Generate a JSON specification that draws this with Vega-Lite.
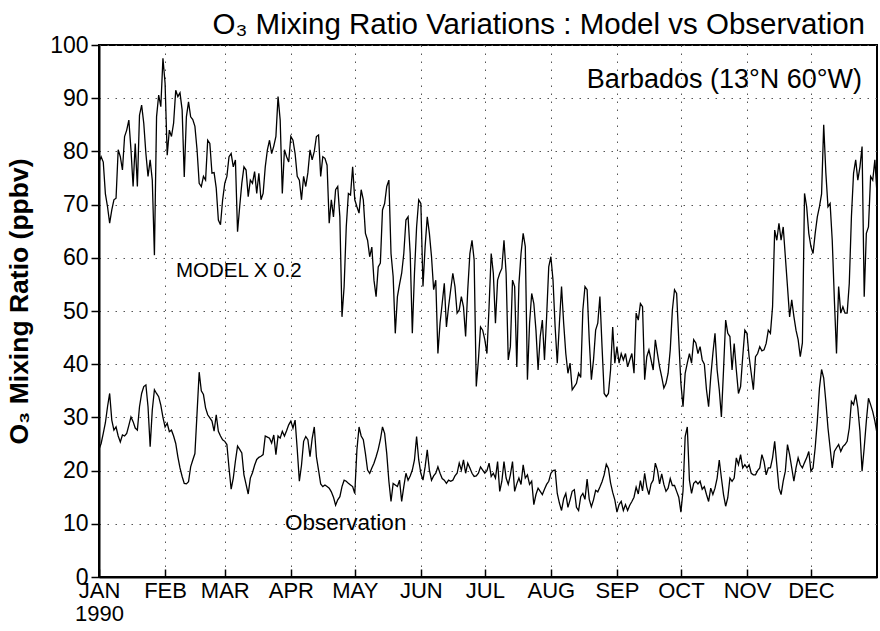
{
"$schema": "https://vega.github.io/schema/vega-lite/v6.json",
"width": 778, "height": 532,
"autosize": {"type": "none"},
"padding": {"left": 99, "top": 45, "right": 3, "bottom": 54},
"background": "white",
"config": {"font": "Liberation Sans", "view": {"stroke": "black", "strokeWidth": 2}},
"title": {"text": "O₃ Mixing Ratio Variations : Model vs Observation", "anchor": "end", "frame": "group", "fontSize": 29.5, "fontWeight": "normal", "font": "Liberation Sans", "color": "black", "dx": -12, "dy": 33, "offset": 4, "baseline": "alphabetic"},
"datasets": {
"model": [
{"day":0,"o3":78},{"day":1,"o3":79},{"day":2,"o3":78},{"day":3,"o3":72},{"day":4,"o3":69.6},{"day":5,"o3":66.5},{"day":6,"o3":69},{"day":7,"o3":70.9},{"day":8,"o3":71.2},{"day":9,"o3":80.3},
{"day":10,"o3":79},{"day":11,"o3":76.5},{"day":12,"o3":82.8},{"day":13,"o3":84},{"day":14,"o3":85.9},{"day":15,"o3":80.3},{"day":16,"o3":73.4},{"day":17,"o3":81.5},{"day":18,"o3":73.4},{"day":19,"o3":86.8},
{"day":20,"o3":88.7},{"day":21,"o3":85.3},{"day":22,"o3":79.6},{"day":23,"o3":75.3},{"day":24,"o3":78.4},{"day":25,"o3":74.6},{"day":26,"o3":60.5},{"day":27,"o3":86.5},{"day":28,"o3":90.6},{"day":29,"o3":88.4},
{"day":30,"o3":97.5},{"day":31,"o3":92.8},{"day":32,"o3":79.3},{"day":33,"o3":84},{"day":34,"o3":82.8},{"day":35,"o3":85.3},{"day":36,"o3":91.5},{"day":37,"o3":90.3},{"day":38,"o3":91},{"day":39,"o3":87.8},
{"day":40,"o3":75.2},{"day":41,"o3":86.5},{"day":42,"o3":89.3},{"day":43,"o3":86.5},{"day":44,"o3":86},{"day":45,"o3":84.7},{"day":46,"o3":80.3},{"day":47,"o3":74},{"day":48,"o3":73.4},{"day":49,"o3":75.3},
{"day":50,"o3":74.6},{"day":51,"o3":82.1},{"day":52,"o3":81.5},{"day":53,"o3":75.9},{"day":54,"o3":76},{"day":55,"o3":73.1},{"day":56,"o3":67.1},{"day":57,"o3":66.2},{"day":58,"o3":70.9},{"day":59,"o3":74},
{"day":60,"o3":75.3},{"day":61,"o3":79},{"day":62,"o3":79.6},{"day":63,"o3":77.1},{"day":64,"o3":78.4},{"day":65,"o3":64.9},{"day":66,"o3":69.6},{"day":67,"o3":74},{"day":68,"o3":77.1},{"day":69,"o3":76.5},
{"day":70,"o3":71.5},{"day":71,"o3":74.6},{"day":72,"o3":74},{"day":73,"o3":76.2},{"day":74,"o3":72.1},{"day":75,"o3":75.9},{"day":76,"o3":70.9},{"day":77,"o3":72.1},{"day":78,"o3":77.1},{"day":79,"o3":80.3},
{"day":80,"o3":82.1},{"day":81,"o3":79.6},{"day":82,"o3":81},{"day":83,"o3":82.8},{"day":84,"o3":90.3},{"day":85,"o3":85.9},{"day":86,"o3":72.1},{"day":87,"o3":80.3},{"day":88,"o3":79},{"day":89,"o3":78},
{"day":90,"o3":82.8},{"day":91,"o3":82.1},{"day":92,"o3":79.6},{"day":93,"o3":75.3},{"day":94,"o3":74.6},{"day":95,"o3":70.9},{"day":96,"o3":75.3},{"day":97,"o3":73.4},{"day":98,"o3":76},{"day":99,"o3":80.3},
{"day":100,"o3":78.4},{"day":101,"o3":80},{"day":102,"o3":82.8},{"day":103,"o3":83.1},{"day":104,"o3":75.3},{"day":105,"o3":79},{"day":106,"o3":78.7},{"day":107,"o3":77.4},{"day":108,"o3":66.5},{"day":109,"o3":70.9},
{"day":110,"o3":67.7},{"day":111,"o3":72.8},{"day":112,"o3":73.4},{"day":113,"o3":67.7},{"day":114,"o3":48.9},{"day":115,"o3":54.6},{"day":116,"o3":65.8},{"day":117,"o3":72.1},{"day":118,"o3":71.8},{"day":119,"o3":77.1},
{"day":120,"o3":70.9},{"day":121,"o3":69.6},{"day":122,"o3":68.4},{"day":123,"o3":72.8},{"day":124,"o3":70.9},{"day":125,"o3":64.6},{"day":126,"o3":63.3},{"day":127,"o3":60.2},{"day":128,"o3":62},{"day":129,"o3":55.8},
{"day":130,"o3":52.7},{"day":131,"o3":58.3},{"day":132,"o3":59},{"day":133,"o3":69},{"day":134,"o3":70.2},{"day":135,"o3":73.4},{"day":136,"o3":74.6},{"day":137,"o3":60.8},{"day":138,"o3":56.5},{"day":139,"o3":45.8},
{"day":140,"o3":52.7},{"day":141,"o3":55},{"day":142,"o3":57.1},{"day":143,"o3":60.8},{"day":144,"o3":67.1},{"day":145,"o3":67.7},{"day":146,"o3":60.8},{"day":147,"o3":45.8},{"day":148,"o3":57.1},{"day":149,"o3":65.8},
{"day":150,"o3":70.9},{"day":151,"o3":70.2},{"day":152,"o3":54.6},{"day":153,"o3":62.1},{"day":154,"o3":67.7},{"day":155,"o3":64.6},{"day":156,"o3":60.2},{"day":157,"o3":54},{"day":158,"o3":55.8},{"day":159,"o3":42},
{"day":160,"o3":47.7},{"day":161,"o3":51.4},{"day":162,"o3":55.2},{"day":163,"o3":47},{"day":164,"o3":50.8},{"day":165,"o3":54},{"day":166,"o3":57.1},{"day":167,"o3":54.6},{"day":168,"o3":49.6},{"day":169,"o3":50.2},
{"day":170,"o3":52.7},{"day":171,"o3":50.8},{"day":172,"o3":45.2},{"day":173,"o3":54},{"day":174,"o3":60.8},{"day":175,"o3":63.3},{"day":176,"o3":59.6},{"day":177,"o3":35.8},{"day":178,"o3":40.8},{"day":179,"o3":47},
{"day":180,"o3":46.4},{"day":181,"o3":44.6},{"day":182,"o3":42},{"day":183,"o3":50.8},{"day":184,"o3":60.8},{"day":185,"o3":57.1},{"day":186,"o3":47.7},{"day":187,"o3":55.8},{"day":188,"o3":57.1},{"day":189,"o3":58},
{"day":190,"o3":63.3},{"day":191,"o3":57.1},{"day":192,"o3":40.8},{"day":193,"o3":43.3},{"day":194,"o3":55.8},{"day":195,"o3":54.6},{"day":196,"o3":39.5},{"day":197,"o3":55},{"day":198,"o3":60.8},{"day":199,"o3":64.6},
{"day":200,"o3":62.1},{"day":201,"o3":37.1},{"day":202,"o3":47.7},{"day":203,"o3":53.3},{"day":204,"o3":51.4},{"day":205,"o3":46.4},{"day":206,"o3":38.9},{"day":207,"o3":45.2},{"day":208,"o3":48.3},{"day":209,"o3":40.8},
{"day":210,"o3":48.9},{"day":211,"o3":58.3},{"day":212,"o3":60.2},{"day":213,"o3":55.8},{"day":214,"o3":47},{"day":215,"o3":40.2},{"day":216,"o3":47.7},{"day":217,"o3":54.6},{"day":218,"o3":47.7},{"day":219,"o3":42},
{"day":220,"o3":38.3},{"day":221,"o3":40.2},{"day":222,"o3":35.2},{"day":223,"o3":35.8},{"day":224,"o3":36.4},{"day":225,"o3":38.3},{"day":226,"o3":37.5},{"day":227,"o3":50.2},{"day":228,"o3":54.6},{"day":229,"o3":54},
{"day":230,"o3":44.6},{"day":231,"o3":37.1},{"day":232,"o3":40.8},{"day":233,"o3":46.4},{"day":234,"o3":47.7},{"day":235,"o3":52.7},{"day":236,"o3":43.3},{"day":237,"o3":34.5},{"day":238,"o3":33.9},{"day":239,"o3":34.5},
{"day":240,"o3":38.9},{"day":241,"o3":47},{"day":242,"o3":40.2},{"day":243,"o3":43.3},{"day":244,"o3":40.2},{"day":245,"o3":42},{"day":246,"o3":40.8},{"day":247,"o3":42},{"day":248,"o3":39.5},{"day":249,"o3":40.8},
{"day":250,"o3":42},{"day":251,"o3":38.3},{"day":252,"o3":49.6},{"day":253,"o3":48.3},{"day":254,"o3":51.4},{"day":255,"o3":50.8},{"day":256,"o3":37.1},{"day":257,"o3":41.4},{"day":258,"o3":42.7},{"day":259,"o3":40.8},
{"day":260,"o3":38.9},{"day":261,"o3":44.6},{"day":262,"o3":42},{"day":263,"o3":39.5},{"day":264,"o3":37.6},{"day":265,"o3":35.5},{"day":266,"o3":36.4},{"day":267,"o3":38.3},{"day":268,"o3":42.7},{"day":269,"o3":50.2},
{"day":270,"o3":54},{"day":271,"o3":53.3},{"day":272,"o3":44.6},{"day":273,"o3":36.4},{"day":274,"o3":32},{"day":275,"o3":38.3},{"day":276,"o3":40.2},{"day":277,"o3":42},{"day":278,"o3":40.2},{"day":279,"o3":44.6},
{"day":280,"o3":44},{"day":281,"o3":42},{"day":282,"o3":43.3},{"day":283,"o3":40.8},{"day":284,"o3":40},{"day":285,"o3":35.2},{"day":286,"o3":32},{"day":287,"o3":37.6},{"day":288,"o3":42},{"day":289,"o3":45.8},
{"day":290,"o3":38.9},{"day":291,"o3":35.2},{"day":292,"o3":30.1},{"day":293,"o3":38.9},{"day":294,"o3":48.3},{"day":295,"o3":45.8},{"day":296,"o3":45.2},{"day":297,"o3":38.9},{"day":298,"o3":43.9},{"day":299,"o3":38.9},
{"day":300,"o3":34.5},{"day":301,"o3":35.8},{"day":302,"o3":41.4},{"day":303,"o3":46.4},{"day":304,"o3":45.8},{"day":305,"o3":41.4},{"day":306,"o3":38.3},{"day":307,"o3":35.2},{"day":308,"o3":41.4},{"day":309,"o3":42},
{"day":310,"o3":43.3},{"day":311,"o3":42.5},{"day":312,"o3":42.7},{"day":313,"o3":43.9},{"day":314,"o3":46.4},{"day":315,"o3":45.8},{"day":316,"o3":50.8},{"day":317,"o3":65.2},{"day":318,"o3":63.3},{"day":319,"o3":66.5},
{"day":320,"o3":63.3},{"day":321,"o3":65.8},{"day":322,"o3":60.2},{"day":323,"o3":54.6},{"day":324,"o3":48.9},{"day":325,"o3":52.1},{"day":326,"o3":49},{"day":327,"o3":46.4},{"day":328,"o3":44.6},{"day":329,"o3":41.4},
{"day":330,"o3":44},{"day":331,"o3":72.1},{"day":332,"o3":69.6},{"day":333,"o3":64.6},{"day":334,"o3":62.1},{"day":335,"o3":60.8},{"day":336,"o3":64.6},{"day":337,"o3":67.7},{"day":338,"o3":69.6},{"day":339,"o3":72},
{"day":340,"o3":85},{"day":341,"o3":76},{"day":342,"o3":69.6},{"day":343,"o3":70.2},{"day":344,"o3":63.3},{"day":345,"o3":52.1},{"day":346,"o3":42},{"day":347,"o3":54.6},{"day":348,"o3":49.6},{"day":349,"o3":50.8},
{"day":350,"o3":49.6},{"day":351,"o3":49.6},{"day":352,"o3":55.2},{"day":353,"o3":67.7},{"day":354,"o3":75.9},{"day":355,"o3":78.4},{"day":356,"o3":74.6},{"day":357,"o3":77.1},{"day":358,"o3":80.9},{"day":359,"o3":52.7},
{"day":360,"o3":64.6},{"day":361,"o3":65.8},{"day":362,"o3":75.3},{"day":363,"o3":74.6},{"day":364,"o3":78.4},{"day":365,"o3":72}
],
"obs": [
{"day":0,"o3":24},{"day":1,"o3":25.1},{"day":2,"o3":27},{"day":3,"o3":29},{"day":4,"o3":32},{"day":5,"o3":34.5},{"day":6,"o3":29.5},{"day":7,"o3":27.6},{"day":8,"o3":28.2},{"day":9,"o3":26.5},
{"day":10,"o3":25.4},{"day":11,"o3":26.7},{"day":12,"o3":26.5},{"day":13,"o3":27},{"day":14,"o3":28.5},{"day":15,"o3":30.1},{"day":16,"o3":29.2},{"day":17,"o3":28},{"day":18,"o3":27.6},{"day":19,"o3":32},
{"day":20,"o3":34.5},{"day":21,"o3":35.8},{"day":22,"o3":36.1},{"day":23,"o3":32},{"day":24,"o3":24.5},{"day":25,"o3":31.4},{"day":26,"o3":35.2},{"day":27,"o3":34.5},{"day":28,"o3":33.9},{"day":29,"o3":32.3},
{"day":30,"o3":30},{"day":31,"o3":28.2},{"day":32,"o3":28.9},{"day":33,"o3":27.3},{"day":34,"o3":27.6},{"day":35,"o3":26.5},{"day":36,"o3":25.1},{"day":37,"o3":22.6},{"day":38,"o3":20.5},{"day":39,"o3":18.9},
{"day":40,"o3":17.6},{"day":41,"o3":17.5},{"day":42,"o3":17.9},{"day":43,"o3":20.7},{"day":44,"o3":22},{"day":45,"o3":23.2},{"day":46,"o3":30.8},{"day":47,"o3":38.5},{"day":48,"o3":35},{"day":49,"o3":34.3},
{"day":50,"o3":31.8},{"day":51,"o3":30.5},{"day":52,"o3":29.9},{"day":53,"o3":29.3},{"day":54,"o3":27.4},{"day":55,"o3":30.5},{"day":56,"o3":27.4},{"day":57,"o3":26.5},{"day":58,"o3":25.8},{"day":59,"o3":25.5},
{"day":60,"o3":24.9},{"day":61,"o3":20.5},{"day":62,"o3":16.5},{"day":63,"o3":18.6},{"day":64,"o3":21.8},{"day":65,"o3":24.6},{"day":66,"o3":24},{"day":67,"o3":23.3},{"day":68,"o3":19.2},{"day":69,"o3":17.4},
{"day":70,"o3":15.6},{"day":71,"o3":18.6},{"day":72,"o3":19.6},{"day":73,"o3":21},{"day":74,"o3":22.1},{"day":75,"o3":22.5},{"day":76,"o3":22.7},{"day":77,"o3":23},{"day":78,"o3":26.5},{"day":79,"o3":26.3},
{"day":80,"o3":26.1},{"day":81,"o3":25.2},{"day":82,"o3":26.7},{"day":83,"o3":23},{"day":84,"o3":26.5},{"day":85,"o3":26.1},{"day":86,"o3":27.4},{"day":87,"o3":26.5},{"day":88,"o3":27.5},{"day":89,"o3":28.6},
{"day":90,"o3":29.3},{"day":91,"o3":28},{"day":92,"o3":29.5},{"day":93,"o3":24},{"day":94,"o3":18},{"day":95,"o3":21},{"day":96,"o3":25.5},{"day":97,"o3":26.4},{"day":98,"o3":25.8},{"day":99,"o3":22.6},
{"day":100,"o3":26},{"day":101,"o3":28.2},{"day":102,"o3":22.6},{"day":103,"o3":20.1},{"day":104,"o3":17.5},{"day":105,"o3":17},{"day":106,"o3":17.3},{"day":107,"o3":17},{"day":108,"o3":16.7},{"day":109,"o3":16},
{"day":110,"o3":15},{"day":111,"o3":13.5},{"day":112,"o3":14.5},{"day":113,"o3":15.1},{"day":114,"o3":17},{"day":115,"o3":18.2},{"day":116,"o3":18},{"day":117,"o3":17.6},{"day":118,"o3":17.3},{"day":119,"o3":17},
{"day":120,"o3":15.7},{"day":121,"o3":23.9},{"day":122,"o3":28.2},{"day":123,"o3":26.5},{"day":124,"o3":25.8},{"day":125,"o3":23.2},{"day":126,"o3":20.1},{"day":127,"o3":19.5},{"day":128,"o3":20.5},{"day":129,"o3":21.4},
{"day":130,"o3":22.6},{"day":131,"o3":24},{"day":132,"o3":25.8},{"day":133,"o3":28.2},{"day":134,"o3":27},{"day":135,"o3":23.2},{"day":136,"o3":18},{"day":137,"o3":14.2},{"day":138,"o3":17.6},{"day":139,"o3":17.3},
{"day":140,"o3":17},{"day":141,"o3":18.2},{"day":142,"o3":14.2},{"day":143,"o3":17},{"day":144,"o3":19.5},{"day":145,"o3":18.2},{"day":146,"o3":19},{"day":147,"o3":20.1},{"day":148,"o3":22},{"day":149,"o3":26.4},
{"day":150,"o3":22},{"day":151,"o3":19.5},{"day":152,"o3":18.2},{"day":153,"o3":20.7},{"day":154,"o3":23.9},{"day":155,"o3":20.1},{"day":156,"o3":18.2},{"day":157,"o3":19},{"day":158,"o3":19.5},{"day":159,"o3":20.7},
{"day":160,"o3":19.5},{"day":161,"o3":18.5},{"day":162,"o3":18.2},{"day":163,"o3":17.6},{"day":164,"o3":18.2},{"day":165,"o3":18},{"day":166,"o3":18.2},{"day":167,"o3":19},{"day":168,"o3":19.5},{"day":169,"o3":21.4},
{"day":170,"o3":20.1},{"day":171,"o3":22},{"day":172,"o3":19.5},{"day":173,"o3":21.4},{"day":174,"o3":20.5},{"day":175,"o3":19.5},{"day":176,"o3":18.9},{"day":177,"o3":19},{"day":178,"o3":19.5},{"day":179,"o3":20.7},
{"day":180,"o3":20.1},{"day":181,"o3":19.5},{"day":182,"o3":20},{"day":183,"o3":21.4},{"day":184,"o3":18.9},{"day":185,"o3":19.5},{"day":186,"o3":18.6},{"day":187,"o3":21.7},{"day":188,"o3":16.1},{"day":189,"o3":18},
{"day":190,"o3":21.7},{"day":191,"o3":18.6},{"day":192,"o3":17.4},{"day":193,"o3":19.2},{"day":194,"o3":21.7},{"day":195,"o3":16.1},{"day":196,"o3":17.5},{"day":197,"o3":18.6},{"day":198,"o3":17.4},{"day":199,"o3":21.1},
{"day":200,"o3":18.6},{"day":201,"o3":19.2},{"day":202,"o3":17.4},{"day":203,"o3":18},{"day":204,"o3":13.6},{"day":205,"o3":15.5},{"day":206,"o3":16.7},{"day":207,"o3":16.1},{"day":208,"o3":15.5},{"day":209,"o3":16.5},
{"day":210,"o3":17.4},{"day":211,"o3":18},{"day":212,"o3":19.5},{"day":213,"o3":20},{"day":214,"o3":20.1},{"day":215,"o3":15.7},{"day":216,"o3":13.9},{"day":217,"o3":12.5},{"day":218,"o3":14.7},{"day":219,"o3":15.7},
{"day":220,"o3":13.1},{"day":221,"o3":14.5},{"day":222,"o3":16.1},{"day":223,"o3":16.4},{"day":224,"o3":13.1},{"day":225,"o3":12.5},{"day":226,"o3":15.1},{"day":227,"o3":15.7},{"day":228,"o3":14.6},{"day":229,"o3":18.4},
{"day":230,"o3":14.6},{"day":231,"o3":13.2},{"day":232,"o3":14.5},{"day":233,"o3":16.3},{"day":234,"o3":16},{"day":235,"o3":16.9},{"day":236,"o3":17.9},{"day":237,"o3":19.2},{"day":238,"o3":21.2},{"day":239,"o3":20.4},
{"day":240,"o3":17.7},{"day":241,"o3":15.9},{"day":242,"o3":14.5},{"day":243,"o3":12.2},{"day":244,"o3":13.6},{"day":245,"o3":14.2},{"day":246,"o3":12.5},{"day":247,"o3":13.6},{"day":248,"o3":12.5},{"day":249,"o3":13.5},
{"day":250,"o3":14.2},{"day":251,"o3":15},{"day":252,"o3":16.9},{"day":253,"o3":15.6},{"day":254,"o3":18.1},{"day":255,"o3":16.2},{"day":256,"o3":19.5},{"day":257,"o3":16.9},{"day":258,"o3":15.5},{"day":259,"o3":17.5},
{"day":260,"o3":18.2},{"day":261,"o3":21.4},{"day":262,"o3":20.1},{"day":263,"o3":17.5},{"day":264,"o3":19.4},{"day":265,"o3":17.4},{"day":266,"o3":16.1},{"day":267,"o3":16.7},{"day":268,"o3":18.5},{"day":269,"o3":17.2},
{"day":270,"o3":17.2},{"day":271,"o3":16.1},{"day":272,"o3":15},{"day":273,"o3":12.2},{"day":274,"o3":16.2},{"day":275,"o3":26.4},{"day":276,"o3":28.2},{"day":277,"o3":18.2},{"day":278,"o3":15.7},{"day":279,"o3":17.6},
{"day":280,"o3":18},{"day":281,"o3":17.5},{"day":282,"o3":18},{"day":283,"o3":16.5},{"day":284,"o3":17},{"day":285,"o3":15.5},{"day":286,"o3":14.2},{"day":287,"o3":16.7},{"day":288,"o3":15.5},{"day":289,"o3":16.7},
{"day":290,"o3":18.6},{"day":291,"o3":22},{"day":292,"o3":18.6},{"day":293,"o3":15.5},{"day":294,"o3":13.3},{"day":295,"o3":14.9},{"day":296,"o3":18.6},{"day":297,"o3":18},{"day":298,"o3":18.6},{"day":299,"o3":22.4},
{"day":300,"o3":21.1},{"day":301,"o3":23},{"day":302,"o3":20.5},{"day":303,"o3":21.1},{"day":304,"o3":20.5},{"day":305,"o3":21.1},{"day":306,"o3":19.5},{"day":307,"o3":19.2},{"day":308,"o3":19.2},{"day":309,"o3":20},
{"day":310,"o3":20.5},{"day":311,"o3":23},{"day":312,"o3":21.7},{"day":313,"o3":19.2},{"day":314,"o3":20.5},{"day":315,"o3":20.5},{"day":316,"o3":22.4},{"day":317,"o3":25.5},{"day":318,"o3":21.1},{"day":319,"o3":16.7},
{"day":320,"o3":15.5},{"day":321,"o3":18},{"day":322,"o3":19.9},{"day":323,"o3":24.9},{"day":324,"o3":23},{"day":325,"o3":20.5},{"day":326,"o3":18},{"day":327,"o3":20.5},{"day":328,"o3":22.4},{"day":329,"o3":21.1},
{"day":330,"o3":20.5},{"day":331,"o3":21.5},{"day":332,"o3":22.4},{"day":333,"o3":23.6},{"day":334,"o3":19.9},{"day":335,"o3":20.5},{"day":336,"o3":24.3},{"day":337,"o3":29.3},{"day":338,"o3":35.5},{"day":339,"o3":39},
{"day":340,"o3":37.4},{"day":341,"o3":33},{"day":342,"o3":28},{"day":343,"o3":24.3},{"day":344,"o3":20.5},{"day":345,"o3":23.6},{"day":346,"o3":24.3},{"day":347,"o3":24.9},{"day":348,"o3":23.6},{"day":349,"o3":24.5},
{"day":350,"o3":24.9},{"day":351,"o3":25.5},{"day":352,"o3":28},{"day":353,"o3":33},{"day":354,"o3":32.4},{"day":355,"o3":34.3},{"day":356,"o3":31.8},{"day":357,"o3":27.4},{"day":358,"o3":19.9},{"day":359,"o3":24.3},
{"day":360,"o3":29.3},{"day":361,"o3":33.6},{"day":362,"o3":32.4},{"day":363,"o3":31.1},{"day":364,"o3":29.3},{"day":365,"o3":27}
]
},
"encoding": {
"x": {"field": "day", "type": "quantitative", "scale": {"domain": [0, 365], "nice": false, "zero": false},
 "axis": {"title": null, "values": [0,31,59,90,120,151,181,212,243,273,304,334],
  "labelExpr": "datum.value == 0 ? ['JAN','1990'] : ['JAN','FEB','MAR','APR','MAY','JUN','JUL','AUG','SEP','OCT','NOV','DEC'][indexof([0,31,59,90,120,151,181,212,243,273,304,334], datum.value)]",
  "grid": true, "gridColor": "#555", "gridDash": [1.5, 6.5], "gridWidth": 1,
  "domain": true, "domainColor": "black", "domainWidth": 2,
  "ticks": true, "tickColor": "black", "tickSize": -8, "tickWidth": 1.5,
  "labelFontSize": 22, "labelColor": "black", "labelPadding": 11, "labelFlush": false, "labelLineHeight": 23, "labelOverlap": false, "labelFont": "Liberation Sans"}},
"y": {"field": "o3", "type": "quantitative", "scale": {"domain": [0, 100], "nice": false},
 "axis": {"title": "O₃ Mixing Ratio (ppbv)", "values": [0,10,20,30,40,50,60,70,80,90,100],
  "grid": true, "gridColor": "#555", "gridDash": [1.5, 6.5], "gridWidth": 1,
  "domain": true, "domainColor": "black", "domainWidth": 2,
  "ticks": true, "tickColor": "black", "tickSize": 8, "tickWidth": 1.5,
  "labelFontSize": 23, "labelColor": "black", "labelPadding": 3, "labelFlush": false, "labelFont": "Liberation Sans",
  "titleFontSize": 26.5, "titleFontWeight": "bold", "titleColor": "black", "titleFont": "Liberation Sans",
  "titleX": -80, "titleY": 256, "titleAngle": -90, "titleBaseline": "middle", "titleAlign": "center"}}
},
"layer": [
{"data": {"name": "model"}, "mark": {"type": "line", "color": "black", "strokeWidth": 1.3}},
{"data": {"name": "obs"}, "mark": {"type": "line", "color": "black", "strokeWidth": 1.3}},
{"data": {"values": [{"day": 358, "o3": 91.9, "label": "Barbados (13°N 60°W)"}]},
 "mark": {"type": "text", "align": "right", "baseline": "alphabetic", "fontSize": 27, "color": "black", "font": "Liberation Sans"},
 "encoding": {"text": {"field": "label"}}},
{"data": {"values": [{"day": 36.1, "o3": 56.4, "label": "MODEL X 0.2"}]},
 "mark": {"type": "text", "align": "left", "baseline": "alphabetic", "fontSize": 20.5, "color": "black", "font": "Liberation Sans"},
 "encoding": {"text": {"field": "label"}}},
{"data": {"values": [{"day": 87.3, "o3": 8.8, "label": "Observation"}]},
 "mark": {"type": "text", "align": "left", "baseline": "alphabetic", "fontSize": 22.5, "color": "black", "font": "Liberation Sans"},
 "encoding": {"text": {"field": "label"}}}
]
}
